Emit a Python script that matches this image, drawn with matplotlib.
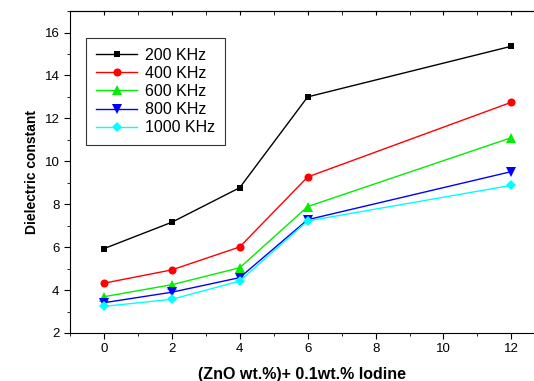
import matplotlib.pyplot as plt
from matplotlib.ticker import MultipleLocator

plt.rcParams['font.family'] = ['Liberation Sans', 'DejaVu Sans']

# ZnO content (wt.%)
zno = [0, 2, 4, 6, 12]

# dielectric constant at each frequency
f200 = [5.93, 7.16, 8.77, 13.0, 15.36]
f400 = [4.32, 4.94, 6.01, 9.27, 12.75]
f600 = [3.69, 4.25, 5.04, 7.89, 11.1]
f800 = [3.41, 3.90, 4.58, 7.28, 9.52]
f1000 = [3.24, 3.57, 4.42, 7.22, 8.88]

labels = ['200 KHz', '400 KHz', '600 KHz', '800 KHz', '1000 KHz']
series = [f200, f400, f600, f800, f1000]
colors = ['black', 'red', '#00ee00', 'blue', 'cyan']
markers = ['s', 'o', '^', 'v', 'D']
msizes = [4.8, 5.8, 7, 7, 5.5]

fig = plt.figure(figsize=(5.34, 3.81), dpi=100)
ax = fig.add_axes([0.131, 0.126, 0.868, 0.845])

for ys, lab, c, m, ms in zip(series, labels, colors, markers, msizes):
    ax.plot(zno, ys, color=c, marker=m, markersize=ms, lw=1, label=lab,
            markeredgewidth=0)

ax.set_xlim(-1, 12.65)
ax.set_ylim(2, 17)
ax.xaxis.set_major_locator(MultipleLocator(2))
ax.xaxis.set_minor_locator(MultipleLocator(1))
ax.yaxis.set_major_locator(MultipleLocator(2))
ax.yaxis.set_minor_locator(MultipleLocator(1))
ax.tick_params(which='both', direction='out', labelsize=9.5, top=False)
ax.tick_params(which='major', length=4)
ax.tick_params(which='minor', length=2.5)
ax.spines['right'].set_visible(False)

# little inward ticks along the top edge
sec = ax.secondary_xaxis('top')
sec.xaxis.set_major_locator(MultipleLocator(2))
sec.xaxis.set_minor_locator(MultipleLocator(1))
sec.tick_params(which='both', direction='in', labeltop=False, length=3)

ax.set_xlabel('(ZnO wt.%)+ 0.1wt.% Iodine', fontsize=11.5, fontweight='bold',
              labelpad=8)
ax.set_ylabel('Dielectric constant', fontsize=10, fontweight='bold')

leg = ax.legend(loc='upper left', bbox_to_anchor=(0.035, 0.916), fontsize=11.5,
                frameon=True, fancybox=False, edgecolor='black',
                handlelength=2.6, labelspacing=0.2, borderpad=0.6,
                borderaxespad=0, handletextpad=0.5)
leg.get_frame().set_linewidth(0.8)

fig.savefig('out.png', dpi=100)
